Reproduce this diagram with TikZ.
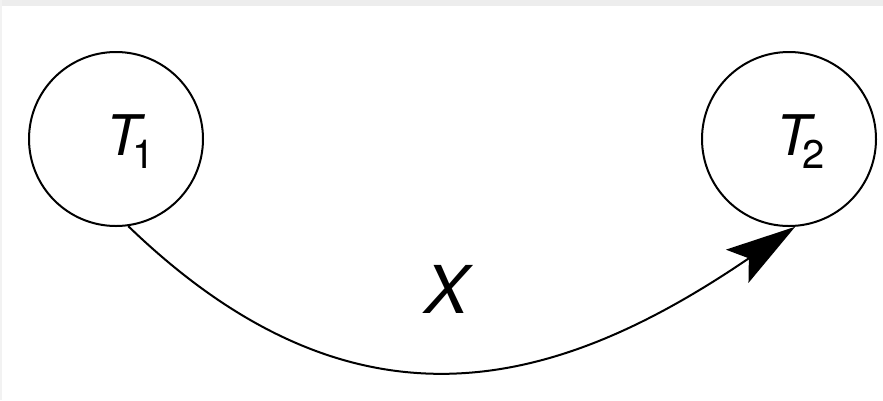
\documentclass[tikz,border=0pt]{standalone}
\usepackage{fontspec}
\setmainfont{TeX Gyre Heros}
\usetikzlibrary{arrows.meta}

\begin{document}
\begin{tikzpicture}[x=1pt,y=-1pt,
  state/.style={draw,circle,line width=2pt,minimum size=174pt,inner sep=0pt},
  tname/.style={anchor=base west,inner sep=0pt,font=\fontsize{56}{56}\selectfont\itshape}]
\useasboundingbox (0,0) rectangle (883,400);
% screenshot frame
\fill[gray!14] (0,0) rectangle (883,6);
\fill[gray!10] (0,0) rectangle (2,400);
% the two states
\node[state] (t1) at (116,139) {};
\node[state] (t2) at (789,139) {};
\node[tname] (t1name) at (106,155) {T\kern-8pt\raisebox{-13pt}{\upshape\fontsize{40}{40}\selectfont 1}};
\node[tname] (t2name) at (776,155) {T\kern-8pt\raisebox{-13pt}{\upshape\fontsize{40}{40}\selectfont 2}};
% transition
\draw[line width=2pt,-{Stealth[length=70pt,width=40pt,inset=14pt]}]
  (t1.-82) .. controls +(230,222) and +(-235,160) .. (t2.-86);
\node[tname,font=\fontsize{66}{66}\selectfont\itshape] (x) at (424,313) {X};
\end{tikzpicture}
\end{document}
